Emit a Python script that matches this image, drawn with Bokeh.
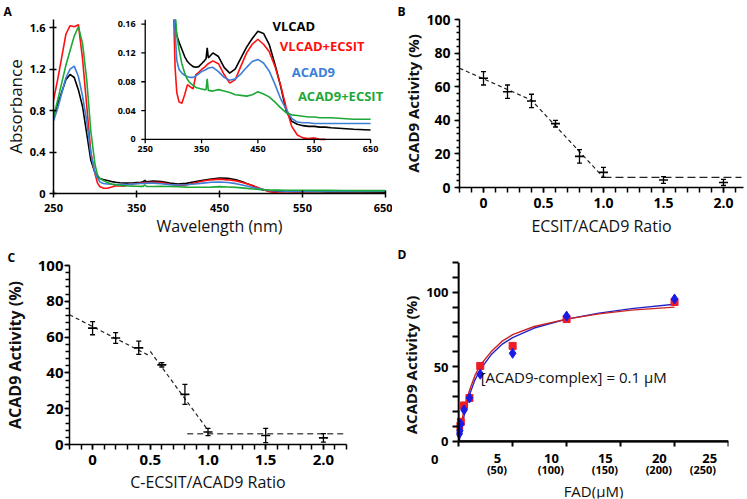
from bokeh.plotting import figure
from bokeh.models import Range1d, LinearAxis, FixedTicker, Label, NumeralTickFormatter, Title
from bokeh.layouts import row, column
from bokeh.embed import file_html
from bokeh.resources import INLINE
from bokeh.core.properties import value

FONT = "Open Sans"

# ---------------- Panel A: absorbance spectra ----------------
wavelength = [250, 255, 260, 265, 270, 275, 280, 285, 290, 295, 300, 303, 306, 310, 315, 320, 325, 330,
              335, 340, 345, 350, 355, 358, 360, 362, 370, 380, 390, 400, 410, 420, 430, 440, 450, 460,
              470, 480, 490, 500, 510, 520, 530, 540, 550, 560, 570, 580, 600, 620, 650]
abs_vlcad = [0.75, 0.86, 0.98, 1.10, 1.15, 1.12, 1.00, 0.84, 0.58, 0.32, 0.20, 0.160, 0.145, 0.135, 0.125,
             0.115, 0.108, 0.104, 0.101, 0.100, 0.101, 0.105, 0.109, 0.112, 0.127, 0.113, 0.120, 0.115,
             0.100, 0.092, 0.098, 0.113, 0.128, 0.140, 0.150, 0.147, 0.132, 0.105, 0.075, 0.040, 0.025,
             0.021, 0.019, 0.018, 0.018, 0.017, 0.017, 0.016, 0.015, 0.014, 0.013]
abs_vlcad_ecsit = [0.90, 1.10, 1.32, 1.54, 1.62, 1.61, 1.63, 1.30, 0.85, 0.40, 0.19, 0.10, 0.065, 0.052,
                   0.050, 0.062, 0.076, 0.073, 0.070, 0.090, 0.093, 0.097, 0.100, 0.102, 0.104, 0.105,
                   0.109, 0.105, 0.090, 0.078, 0.083, 0.102, 0.120, 0.132, 0.139, 0.132, 0.122, 0.102,
                   0.076, 0.045, 0.018, 0.006, 0.002, 0.001, 0.002, 0.0, 0.0, 0.0, 0.0, 0.0, 0.0]
abs_acad9 = [0.70, 0.82, 0.97, 1.12, 1.20, 1.23, 1.13, 0.94, 0.70, 0.38, 0.20, 0.15, 0.11, 0.097, 0.092,
             0.089, 0.087, 0.086, 0.086, 0.088, 0.091, 0.094, 0.096, 0.097, 0.098, 0.099, 0.100, 0.094,
             0.086, 0.082, 0.084, 0.091, 0.100, 0.108, 0.111, 0.106, 0.095, 0.077, 0.057, 0.042, 0.029,
             0.024, 0.023, 0.023, 0.022, 0.022, 0.022, 0.022, 0.022, 0.022, 0.022]
abs_acad9_ecsit = [0.74, 0.90, 1.07, 1.24, 1.38, 1.52, 1.61, 1.45, 1.10, 0.60, 0.28, 0.18, 0.145, 0.125,
                   0.105, 0.092, 0.083, 0.078, 0.075, 0.072, 0.071, 0.070, 0.069, 0.069, 0.084, 0.068,
                   0.067, 0.069, 0.067, 0.065, 0.062, 0.061, 0.060, 0.062, 0.066, 0.063, 0.059, 0.052,
                   0.044, 0.037, 0.034, 0.033, 0.032, 0.031, 0.031, 0.030, 0.030, 0.030, 0.029, 0.028, 0.028]
series_names = ["VLCAD", "VLCAD+ECSIT", "ACAD9", "ACAD9+ECSIT"]
series_colors = ["#000000", "#ff1010", "#3a7fd8", "#1ea838"]
a_x_ticks = [250, 350, 450, 550, 650]
a_y_ticks = [0, 0.4, 0.8, 1.2, 1.6]
inset_x_ticks = [250, 350, 450, 550, 650]
inset_y_ticks = [0, 0.04, 0.08, 0.12, 0.16]
inset_y_labels = ["0", "0.04", "0.08", "0.12", "0.16"]
inset_from_nm = 295
red_inset_to_nm = 570

# ---------------- Panel B ----------------
ratio_b = [0, 0.2, 0.4, 0.6, 0.8, 1.0, 1.5, 2.0]
act_b = [65, 57, 51.5, 38, 18.5, 9, 4.5, 3]
err_b = [4, 4, 4, 2, 4, 3, 2, 1.8]
fit_b_x = [-0.2, 0.4, 1.0]
fit_b_y = [71, 52, 6]
plateau_b_x = [1.0, 2.15]
plateau_b_y = [6, 6]

# ---------------- Panel C ----------------
ratio_c = [0, 0.2, 0.4, 0.6, 0.8, 1.0, 1.5, 2.0]
act_c = [65, 59.5, 54, 44.5, 28, 7, 5, 3.7]
err_c = [3.7, 3, 3.7, 1.2, 5.6, 2, 4, 2.4]
fit_c1_x = [-0.2, 0.48]
fit_c1_y = [72.5, 50]
fit_c2_x = [0.5, 1.0]
fit_c2_y = [52, 8]
plateau_c_x = [0.82, 2.2]
plateau_c_y = [6, 6]
ratio_ticks = [0, 0.5, 1, 1.5, 2]
ratio_tick_labels = ["0", "0.5", "1.0", "1.5", "2.0"]

# ---------------- Panel D ----------------
fad_red = [0.05, 0.2, 0.5, 1, 2, 5, 10, 20]
act_red = [10, 13, 24, 29, 50.5, 64, 82, 93.5]
fad_blue = [0.05, 0.1, 0.2, 0.5, 1, 2, 5, 10, 20]
act_blue = [5, 7, 11.5, 21, 29, 45, 59, 84, 95.5]
fit_red_x = [0.1, 0.25, 0.5, 1, 1.5, 2, 3, 4, 5, 7, 10, 13, 16, 20]
fit_red_y = [5, 12, 21, 34, 44, 51, 60, 67, 71.5, 77, 82, 85.5, 88, 90]
fit_blue_x = [0.05, 0.25, 0.5, 1, 1.5, 2, 3, 4, 5, 7, 10, 13, 16, 20]
fit_blue_y = [0, 8, 17, 31, 41, 48, 58, 65, 69.5, 76, 82, 86, 89, 92]
d_x_ticks = [0, 5, 10, 15, 20, 25]
d_x_tick_labels = ["0", "5", "10", "15", "20", "25"]
d_x_sub_ticks = [5, 10, 15, 20, 25]
d_x_sub_labels = ["(50)", "(100)", "(150)", "(200)", "(250)"]
d_y_ticks = [0, 50, 100]
d_y_minor = [0, 10, 20, 30, 40, 50, 60, 70, 80, 90, 100, 110, 120]

NB = "\u00a0"


def base_fig(w, h, xr, yr, l, r, t, b, letter, letter_dx):
    p = figure(width=w, height=h, output_backend="svg", toolbar_location=None,
               x_range=xr, y_range=yr, min_border_left=l, min_border_right=r,
               min_border_top=t, min_border_bottom=b)
    p.title = Title(text=letter, align="left", offset=letter_dx, standoff=0, vertical_align="bottom",
                    text_font=FONT, text_font_size="12px", text_font_style="bold", text_color="black")
    p.outline_line_color = None
    p.xgrid.grid_line_color = None
    p.ygrid.grid_line_color = None
    return p


def style_axis(ax, tick_size, label_size, label_style="normal", width=1.5):
    ax.axis_line_width = width
    ax.axis_line_color = "black"
    ax.major_tick_line_width = width
    ax.minor_tick_line_width = width
    ax.major_label_text_font = FONT
    ax.major_label_text_font_size = tick_size
    ax.major_label_text_font_style = "bold"
    ax.major_label_text_color = "black"
    ax.axis_label_text_font = FONT
    ax.axis_label_text_font_size = label_size
    ax.axis_label_text_font_style = label_style
    ax.axis_label_text_color = "#111111"


# ================= A =================
pA = base_fig(392, 243, Range1d(250, 650), Range1d(0, 1.68), 52, 7, 3, 50, "A", -50)
pA.extra_x_ranges = {"ix": Range1d(87.2, 676.5)}
pA.extra_y_ranges = {"iy": Range1d(-0.0752, 0.1664)}
all_series = [abs_vlcad, abs_vlcad_ecsit, abs_acad9, abs_acad9_ecsit]
for ys, c in zip(all_series, series_colors):
    pA.line(wavelength, ys, line_color=c, line_width=1.6)
for ys, c, name in zip(all_series, series_colors, series_names):
    upper = red_inset_to_nm if name == "VLCAD+ECSIT" else 10000
    pts = [(w, v) for w, v in zip(wavelength, ys) if inset_from_nm <= w <= upper]
    pA.line([q[0] for q in pts], [q[1] for q in pts], line_color=c, line_width=1.6,
            x_range_name="ix", y_range_name="iy")

# inset axes (drawn inside the frame)
inset_top = 0.1664
pA.line([250, 250], [0, inset_top], line_color="black", line_width=1.3,
        x_range_name="ix", y_range_name="iy")
pA.line([250, 650], [0, 0], line_color="black", line_width=1.3,
        x_range_name="ix", y_range_name="iy")
pA.segment(x0=[243] * len(inset_y_ticks), y0=inset_y_ticks, x1=[250] * len(inset_y_ticks), y1=inset_y_ticks,
           line_color="black", line_width=1.3, x_range_name="ix", y_range_name="iy")
pA.segment(x0=inset_x_ticks, y0=[0] * len(inset_x_ticks), x1=inset_x_ticks, y1=[-0.0055] * len(inset_x_ticks),
           line_color="black", line_width=1.3, x_range_name="ix", y_range_name="iy")
pA.text(x=[233] * len(inset_y_ticks), y=inset_y_ticks, text=inset_y_labels, text_align="right",
        text_baseline="middle", text_font=value(FONT), text_font_style="bold", text_font_size="9px",
        text_color="black", x_range_name="ix", y_range_name="iy")
pA.text(x=inset_x_ticks, y=[-0.0092] * len(inset_x_ticks), text=[str(t) for t in inset_x_ticks],
        text_align="center", text_baseline="top", text_font=value(FONT), text_font_style="bold",
        text_font_size="9px", text_color="black", x_range_name="ix", y_range_name="iy")

style_axis(pA.xaxis[0], "11px", "16px")
style_axis(pA.yaxis[0], "11px", "17px")
pA.xaxis.ticker = FixedTicker(ticks=a_x_ticks)
pA.yaxis.ticker = FixedTicker(ticks=a_y_ticks)
pA.yaxis.formatter = NumeralTickFormatter(format="0.[0]")
pA.xaxis.axis_label = "Wavelength (nm)"
pA.yaxis.axis_label = "Absorbance"
for ax in (pA.xaxis[0], pA.yaxis[0]):
    ax.major_tick_in = 3
    ax.major_tick_out = 4
    ax.minor_tick_line_color = None
pA.xaxis.major_label_standoff = 6
pA.yaxis.major_label_standoff = 4
pA.xaxis.axis_label_standoff = 0
pA.yaxis.axis_label_standoff = 0

legend_pos = [(476, 0.157), (489, 0.130), (510, 0.094), (521, 0.060)]
for name, c, (lx, ly) in zip(series_names, series_colors, legend_pos):
    pA.add_layout(Label(x=lx, y=ly, x_range_name="ix", y_range_name="iy", text=name,
                        text_color=c, text_font=FONT, text_font_size="13px",
                        text_font_style="bold", text_baseline="middle"))


# ================= B / C helper =================
def ratio_panel(p, xs, ys, es, tick_size, label_size, ylabel, xlabel):
    lo = [y - e for y, e in zip(ys, es)]
    hi = [y + e for y, e in zip(ys, es)]
    p.segment(x0=xs, y0=lo, x1=xs, y1=hi, line_color="black", line_width=1.3)
    p.scatter(xs, lo, marker="dash", size=5, line_color="black", line_width=1.3)
    p.scatter(xs, hi, marker="dash", size=5, line_color="black", line_width=1.3)
    p.scatter(xs, ys, marker="dash", size=9, line_color="black", line_width=1.6)
    style_axis(p.xaxis[0], tick_size, label_size)
    style_axis(p.yaxis[0], tick_size, label_size, label_style="bold")
    p.xaxis.ticker = FixedTicker(ticks=ratio_ticks,
                                 minor_ticks=[round(-0.2 + 0.1 * i, 1) for i in range(25)])
    p.xaxis.major_label_overrides = dict(zip(ratio_ticks, ratio_tick_labels))
    p.yaxis.ticker = FixedTicker(ticks=[0, 20, 40, 60, 80, 100],
                                 minor_ticks=[4 * i for i in range(26)])
    for ax in (p.xaxis[0], p.yaxis[0]):
        ax.major_tick_in = 0
        ax.major_tick_out = 5
        ax.minor_tick_in = 0
    p.xaxis.minor_tick_out = 5
    p.yaxis.minor_tick_out = 3
    p.xaxis.axis_label = xlabel
    p.yaxis.axis_label = ylabel


# ================= B =================
pB = base_fig(355, 243, Range1d(-0.2, 2.167), Range1d(0, 100), 67, 4, 14, 56, "B", -62)
pB.line(fit_b_x, fit_b_y, line_color="#222222", line_width=1.2, line_dash="4 3")
pB.line(plateau_b_x, plateau_b_y, line_color="#222222", line_width=1.2, line_dash="8 4")
ratio_panel(pB, ratio_b, act_b, err_b, "14px", "16px", "ACAD9 Activity (%)", "ECSIT/ACAD9 Ratio")
pB.yaxis.major_label_text_font_size = "14px"
pB.yaxis.axis_label_text_font_size = "15px"
pB.xaxis.major_label_standoff = 5
pB.xaxis.axis_label_standoff = 4
pB.yaxis.major_label_standoff = 4
pB.yaxis.axis_label_standoff = 0

# ================= C =================
pC = base_fig(392, 256, Range1d(-0.2, 2.2), Range1d(0, 100), 64, 46, 22, 55, "C", -62)
pC.line(fit_c1_x, fit_c1_y, line_color="#222222", line_width=1.2, line_dash="4 3")
pC.line(fit_c2_x, fit_c2_y, line_color="#222222", line_width=1.2, line_dash="4 3")
pC.line(plateau_c_x, plateau_c_y, line_color="#555555", line_width=1.3, line_dash="6 4")
ratio_panel(pC, ratio_c, act_c, err_c, "15px", "16px", "ACAD9 Activity (%)", "C-ECSIT/ACAD9 Ratio")
pC.yaxis.minor_tick_out = 4
pC.xaxis.major_label_standoff = 5
pC.xaxis.axis_label_standoff = 3
pC.yaxis.major_label_standoff = 1
pC.yaxis.axis_label_standoff = 9

# ================= D =================
# the frame reaches below y = 0 so that the x axis (fixed at y = 0) and its two rows of labels sit inside it
pD = base_fig(355, 256, Range1d(-0.2, 25), Range1d(-38.5, 120), 64, 19, 16, 1, "D", -59)
pD.line(fit_blue_x, fit_blue_y, line_color="#2222cc", line_width=1.4)
pD.line(fit_red_x, fit_red_y, line_color="#cc2222", line_width=1.4)
pD.scatter(fad_red, act_red, marker="square", size=7, fill_color="#ee1c24", line_color="#ee1c24")
pD.scatter(fad_blue, act_blue, marker="diamond", size=10, fill_color="#1a1ae6", line_color="#1a1ae6")
pD.add_layout(Label(x=2.04, y=43, text="[ACAD9-complex] = 0.1 μM", text_font=FONT,
                    text_font_size="15px", text_baseline="middle", text_color="#111111"))
# axis lines (y from 0 to the top, x from 0 to 25)
pD.line([0, 0], [0, 120], line_color="black", line_width=2)
pD.line([0, 25], [0, 0], line_color="black", line_width=2)

x_zero_label_y = -12   # where the x-axis "0" label sits (left of the y axis, under the origin)
ydax = pD.yaxis[0]
style_axis(ydax, "13px", "15px", label_style="bold", width=2)
ydax.axis_line_color = None
ydax.ticker = FixedTicker(ticks=[x_zero_label_y] + d_y_ticks, minor_ticks=d_y_minor)
ydax.major_label_overrides = {x_zero_label_y: d_x_tick_labels[0] + NB * 3}
ydax.major_tick_in = 0
ydax.major_tick_out = 0
ydax.minor_tick_in = 2
ydax.minor_tick_out = 4
ydax.major_label_standoff = 4
ydax.axis_label = NB * 8 + "ACAD9 Activity (%)"
ydax.axis_label_standoff = 2

# tick labels sit slightly left of their ticks in the reference: pad with no-break spaces
xdax = pD.xaxis[0]
style_axis(xdax, "13px", "15px", width=2)
xdax.fixed_location = 0
xdax.bounds = (0, 25)
xdax.ticker = FixedTicker(ticks=d_x_ticks[1:], minor_ticks=d_x_ticks)
xdax.major_label_overrides = {t: lab + NB * 9 for t, lab in zip(d_x_ticks[1:], d_x_tick_labels[1:])}
xdax.major_tick_in = 0
xdax.major_tick_out = 0
xdax.minor_tick_in = 0
xdax.minor_tick_out = 5
xdax.major_label_standoff = 3

xsub = LinearAxis(fixed_location=0, bounds=(0, 25), ticker=FixedTicker(ticks=d_x_sub_ticks),
                  major_label_overrides={t: lab + NB * 11 for t, lab in zip(d_x_sub_ticks, d_x_sub_labels)})
style_axis(xsub, "11px", "15px")
xsub.axis_line_color = None
xsub.major_tick_line_color = None
xsub.minor_tick_line_color = None
xsub.major_tick_out = 0
xsub.major_tick_in = 0
xsub.major_label_standoff = 21
xsub.axis_label = "FAD(μM)"
xsub.axis_label_standoff = 0
pD.add_layout(xsub, "below")

layout = column(row(column(pA), column(pB)), row(column(pC), column(pD)))
open("out.html", "w").write(file_html(layout, INLINE))
